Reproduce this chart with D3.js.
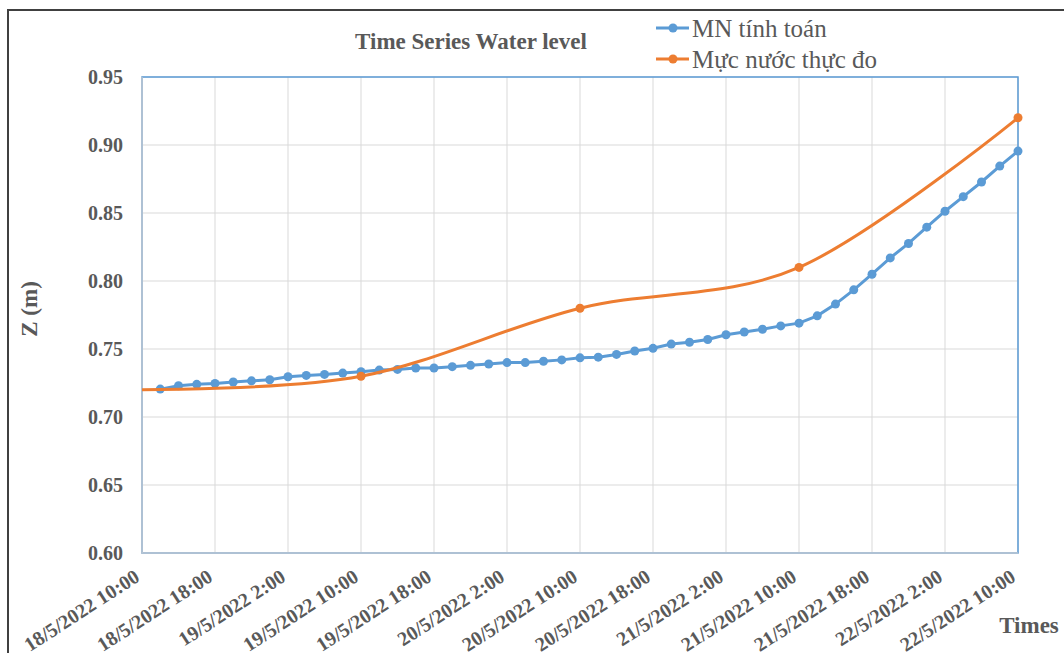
<!DOCTYPE html>
<html lang="en">
<head>
    <meta charset="UTF-8">
    <title>Time Series Water level</title>
    <script src="https://d3js.org/d3.v7.min.js"></script>
    <style>
        body {
            margin: 0;
            background: #fff;
        }
        svg {
            display: block;
        }
        text {
            font-family: "Liberation Serif", serif;
            fill: #595959;
        }
        .grid line {
            stroke: #d9d9d9;
            stroke-width: 1;
        }
        .tick-label {
            font-weight: bold;
            font-size: 20px;
        }
    </style>
</head>
<body>
    <svg width="1064" height="653"></svg>

    <script>
        // x axis tick labels (every 8 hours)
        const xTickLabels = [
            '18/5/2022 10:00', '18/5/2022 18:00', '19/5/2022 2:00', '19/5/2022 10:00',
            '19/5/2022 18:00', '20/5/2022 2:00', '20/5/2022 10:00', '20/5/2022 18:00',
            '21/5/2022 2:00', '21/5/2022 10:00', '21/5/2022 18:00', '22/5/2022 2:00',
            '22/5/2022 10:00'
        ];
        const yTicks = [0.60, 0.65, 0.70, 0.75, 0.80, 0.85, 0.90, 0.95];

        // MN tính toán: every 2 hours from 18/5/2022 12:00
        const calcStart = '18/5/2022 12:00';
        const calcStepHours = 2;
        const calcValues = [
            0.7205, 0.7230, 0.7240, 0.7247, 0.7257, 0.7266,
            0.7274, 0.7296, 0.7306, 0.7313, 0.7323, 0.7333,
            0.7345, 0.7350, 0.7360, 0.7360, 0.7370, 0.7380,
            0.7390, 0.7400, 0.7400, 0.7410, 0.7420, 0.7435,
            0.7440, 0.7460, 0.7485, 0.7505, 0.7536, 0.7550,
            0.7570, 0.7605, 0.7625, 0.7645, 0.7670, 0.7690,
            0.7744, 0.7830, 0.7935, 0.8050, 0.8170, 0.8276,
            0.8396, 0.8513, 0.8620, 0.8728, 0.8845, 0.8955
        ];

        // Mực nước thực đo
        const obsTimes = ['18/5/2022 10:00', '19/5/2022 10:00', '20/5/2022 10:00', '21/5/2022 10:00', '22/5/2022 10:00'];
        const obsValues = [0.72, 0.73, 0.78, 0.81, 0.92];

        const parse = d3.timeParse('%d/%m/%Y %H:%M');
        const blue = '#5b9bd5';
        const orange = '#ed7d31';

        const margin = { left: 142, top: 77, right: 1018, bottom: 553 };

        const xTicks = xTickLabels.map(parse);
        const x = d3.scaleTime()
            .domain([xTicks[0], xTicks[xTicks.length - 1]])
            .range([margin.left, margin.right]);
        const y = d3.scaleLinear()
            .domain([0.60, 0.95])
            .range([margin.bottom, margin.top]);

        const t0 = parse(calcStart);
        const calcData = calcValues.map((v, i) => ({ t: d3.timeHour.offset(t0, i * calcStepHours), v }));
        const obsData = obsTimes.map((s, i) => ({ t: parse(s), v: obsValues[i] }));

        const svg = d3.select('svg');

        // chart frame
        svg.append('path')
            .attr('d', 'M8,1100 L8,10 L1100,10')
            .attr('fill', 'none')
            .attr('stroke', '#404040')
            .attr('stroke-width', 2);

        // gridlines
        const grid = svg.append('g').attr('class', 'grid');
        grid.selectAll('.h').data(yTicks).enter().append('line')
            .attr('x1', margin.left).attr('x2', margin.right)
            .attr('y1', d => y(d)).attr('y2', d => y(d));
        grid.selectAll('.v').data(xTicks).enter().append('line')
            .attr('x1', d => x(d)).attr('x2', d => x(d))
            .attr('y1', margin.top).attr('y2', margin.bottom);

        // plot border
        svg.append('rect')
            .attr('x', margin.left).attr('y', margin.top)
            .attr('width', margin.right - margin.left)
            .attr('height', margin.bottom - margin.top)
            .attr('fill', 'none')
            .attr('stroke', blue)
            .attr('stroke-width', 1.5);
        svg.append('path')
            .attr('d', `M${margin.left},${margin.top} V${margin.bottom} H${margin.right}`)
            .attr('fill', 'none')
            .attr('stroke', '#bfc7d2')
            .attr('stroke-width', 1.5);

        // y tick labels
        svg.append('g').selectAll('text').data(yTicks).enter().append('text')
            .attr('class', 'tick-label')
            .attr('x', margin.left - 19)
            .attr('y', d => y(d))
            .attr('dy', '0.35em')
            .attr('text-anchor', 'end')
            .text(d => d.toFixed(2));

        // x tick labels
        svg.append('g').selectAll('text').data(xTicks).enter().append('text')
            .attr('class', 'tick-label')
            .attr('text-anchor', 'end')
            .attr('transform', d => `translate(${x(d) - 1},${margin.bottom + 27}) rotate(-33)`)
            .text((d, i) => xTickLabels[i]);

        // axis titles
        svg.append('text')
            .attr('transform', 'translate(37,309) rotate(-90)')
            .attr('text-anchor', 'middle')
            .attr('font-weight', 'bold')
            .attr('font-size', 23)
            .text('Z (m)');
        svg.append('text')
            .attr('x', 1029).attr('y', 633)
            .attr('text-anchor', 'middle')
            .attr('font-weight', 'bold')
            .attr('font-size', 23)
            .text('Times');

        // chart title
        svg.append('text')
            .attr('x', 471).attr('y', 49)
            .attr('text-anchor', 'middle')
            .attr('font-weight', 'bold')
            .attr('font-size', 23)
            .text('Time Series Water level');

        // series
        const calcLine = d3.line().x(d => x(d.t)).y(d => y(d.v));
        const obsLine = d3.line().x(d => x(d.t)).y(d => y(d.v)).curve(d3.curveCardinal.tension(0));

        svg.append('path')
            .datum(calcData)
            .attr('d', calcLine)
            .attr('fill', 'none')
            .attr('stroke', blue)
            .attr('stroke-width', 3);
        svg.append('g').selectAll('circle').data(calcData).enter().append('circle')
            .attr('cx', d => x(d.t)).attr('cy', d => y(d.v))
            .attr('r', 4.5)
            .attr('fill', blue);

        svg.append('path')
            .datum(obsData)
            .attr('d', obsLine)
            .attr('fill', 'none')
            .attr('stroke', orange)
            .attr('stroke-width', 3);
        svg.append('g').selectAll('circle').data(obsData.filter(d => x(d.t) > margin.left)).enter().append('circle')
            .attr('cx', d => x(d.t)).attr('cy', d => y(d.v))
            .attr('r', 4.5)
            .attr('fill', orange);

        // legend
        const legend = svg.append('g');
        const legendItems = [
            { name: 'MN tính toán', color: blue, y: 28 },
            { name: 'Mực nước thực đo', color: orange, y: 59 }
        ];
        legendItems.forEach(item => {
            legend.append('line')
                .attr('x1', 656).attr('x2', 689)
                .attr('y1', item.y).attr('y2', item.y)
                .attr('stroke', item.color)
                .attr('stroke-width', 3);
            legend.append('circle')
                .attr('cx', 673).attr('cy', item.y)
                .attr('r', 4.5)
                .attr('fill', item.color);
            legend.append('text')
                .attr('x', 692).attr('y', item.y)
                .attr('dy', '0.35em')
                .attr('font-size', 25)
                .text(item.name);
        });
    </script>
</body>
</html>
